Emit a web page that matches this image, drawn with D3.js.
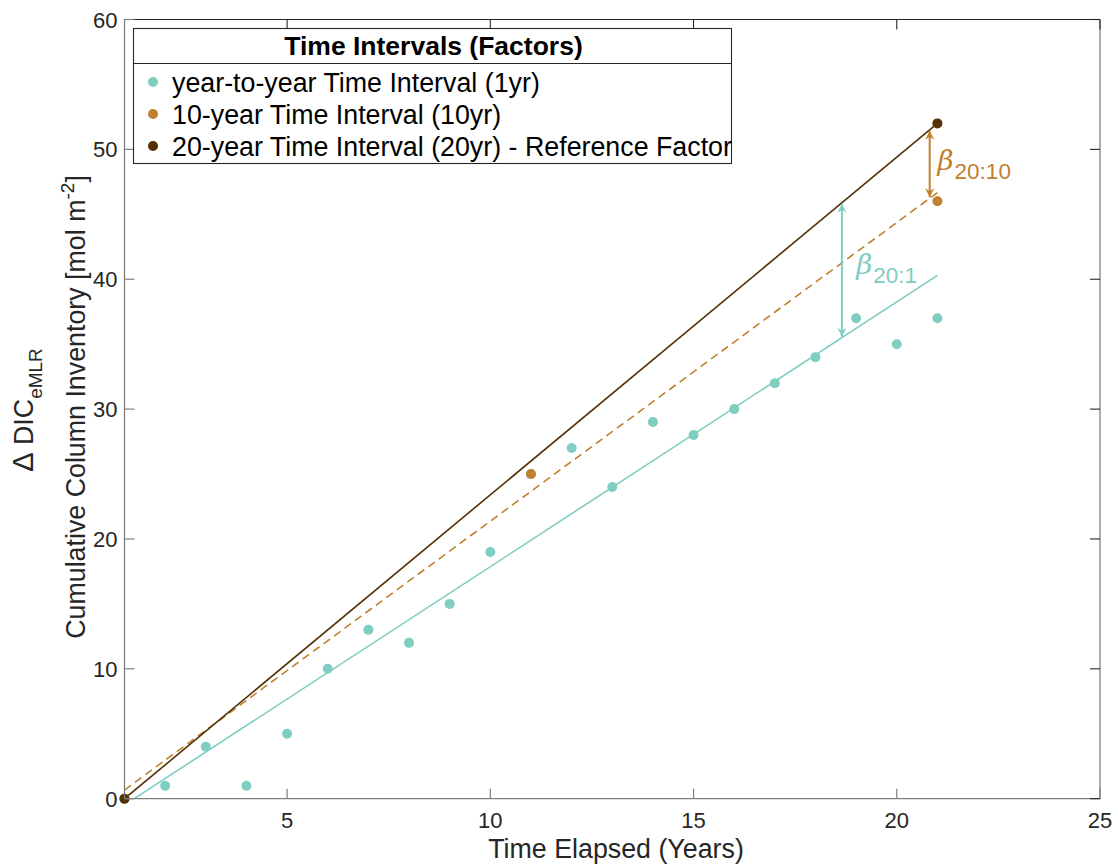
<!DOCTYPE html>
<html>
<head>
<meta charset="utf-8">
<script src="https://cdn.jsdelivr.net/npm/d3@7"></script>
<style>
  body { margin: 0; background: #fff; }
  svg { display: block; font-family: "Liberation Sans", Arial, sans-serif; }
</style>
</head>
<body>
<svg id="chart" width="1118" height="865"></svg>
<script>
// ---- data ----
const yearlyX = [1, 2, 3, 4, 5, 6, 7, 8, 9, 10, 11, 12, 13, 14, 15, 16, 17, 18, 19, 20, 21];
const yearlyY = [0, 1, 4, 1, 5, 10, 13, 12, 15, 19, 25, 27, 24, 29, 28, 30, 32, 34, 37, 35, 37];
const decadeX = [1, 11, 21];
const decadeY = [0, 25, 46];
const refX = [1, 21];
const refY = [0, 52];
const xTicks = [5, 10, 15, 20, 25];
const yTicks = [0, 10, 20, 30, 40, 50, 60];
const legendTitle = "Time Intervals (Factors)";
const legendLabels = [
  "year-to-year Time Interval (1yr)",
  "10-year Time Interval (10yr)",
  "20-year Time Interval (20yr) - Reference Factor"
];
const colors = ["#80cdc1", "#bf812d", "#543005"];
// beta arrows: x position and labels
const betaArrows = [
  { x: 18.65, sub: "20:1", color: "#80cdc1", lx: 19.0, ly: 40.4 },
  { x: 20.81, sub: "20:10", color: "#bf812d", lx: 21.0, ly: 48.4 }
];

// ---- helpers ----
function linfit(xs, ys) {
  const n = xs.length;
  const mx = d3.mean(xs), my = d3.mean(ys);
  let sxy = 0, sxx = 0;
  for (let i = 0; i < n; i++) { sxy += (xs[i] - mx) * (ys[i] - my); sxx += (xs[i] - mx) ** 2; }
  const b = sxy / sxx;
  return x => my + b * (x - mx);
}

const svg = d3.select("#chart");
const L = 124.5, R = 1100, T = 19.5, B = 798.7;
const x = d3.scaleLinear().domain([1, 25]).range([L, R]);
const y = d3.scaleLinear().domain([0, 60]).range([B, T]);

svg.append("defs").append("clipPath").attr("id", "clip")
  .append("rect").attr("x", L).attr("y", T).attr("width", R - L).attr("height", B - T);

const fitYearly = linfit(yearlyX, yearlyY);
const fitDecade = linfit(decadeX, decadeY);
const fitRef = linfit(refX, refY);

const plot = svg.append("g").attr("clip-path", "url(#clip)");
const line = d3.line().x(d => x(d[0])).y(d => y(d[1]));

// fit lines
plot.append("path").datum([[1, fitYearly(1)], [21, fitYearly(21)]])
  .attr("d", line).attr("fill", "none").attr("stroke", colors[0]).attr("stroke-width", 1.6);
plot.append("path").datum([[1, fitDecade(1)], [21, fitDecade(21)]])
  .attr("d", line).attr("fill", "none").attr("stroke", colors[1]).attr("stroke-width", 1.6)
  .attr("stroke-dasharray", "8,5");
plot.append("path").datum([[1, fitRef(1)], [21, fitRef(21)]])
  .attr("d", line).attr("fill", "none").attr("stroke", colors[2]).attr("stroke-width", 1.6);

// points
const pts = svg.append("g");
pts.append("g").selectAll("circle").data(yearlyX.map((d, i) => [d, yearlyY[i]])).join("circle")
  .attr("cx", d => x(d[0])).attr("cy", d => y(d[1])).attr("r", 5).attr("fill", colors[0]);
pts.append("g").selectAll("circle").data(decadeX.map((d, i) => [d, decadeY[i]])).join("circle")
  .attr("cx", d => x(d[0])).attr("cy", d => y(d[1])).attr("r", 5).attr("fill", colors[1]);
pts.append("g").selectAll("circle").data(refX.map((d, i) => [d, refY[i]])).join("circle")
  .attr("cx", d => x(d[0])).attr("cy", d => y(d[1])).attr("r", 5).attr("fill", colors[2]);

// arrows
const defs = svg.select("defs");
betaArrows.forEach((a, i) => {
  ["s", "e"].forEach(k => {
    defs.append("marker").attr("id", `ar${i}${k}`)
      .attr("viewBox", "-10 -6 12 12").attr("refX", 0).attr("refY", 0)
      .attr("markerWidth", 12).attr("markerHeight", 12).attr("markerUnits", "userSpaceOnUse")
      .attr("orient", "auto-start-reverse")
      .append("path").attr("d", "M0,0 L-9,-4.5 L-6,0 L-9,4.5 Z").attr("fill", a.color);
  });
});
const lowerFits = [fitYearly, fitDecade];
betaArrows.forEach((a, i) => {
  svg.append("line")
    .attr("x1", x(a.x)).attr("x2", x(a.x))
    .attr("y1", y(lowerFits[i](a.x)) - 1).attr("y2", y(fitRef(a.x)) + 1)
    .attr("stroke", a.color).attr("stroke-width", 2)
    .attr("marker-start", `url(#ar${i}s)`).attr("marker-end", `url(#ar${i}e)`);
  const t = svg.append("text").attr("x", x(a.lx)).attr("y", y(a.ly)).attr("fill", a.color);
  t.append("tspan").text("β").attr("font-style", "italic").attr("font-size", 28)
    .attr("font-family", "'DejaVu Serif', serif");
  t.append("tspan").text(a.sub).attr("font-size", 22.5).attr("dy", 9).attr("dx", 1);
});

// axes
const axColLB = "#7f7f7f", axColTR = "#262626", txtCol = "#262626";
const ax = svg.append("g");
ax.append("line").attr("x1", L).attr("x2", R).attr("y1", B).attr("y2", B).attr("stroke", axColLB).attr("stroke-width", 1.3);
ax.append("line").attr("x1", L).attr("x2", L).attr("y1", T).attr("y2", B).attr("stroke", axColLB).attr("stroke-width", 1.3);
ax.append("line").attr("x1", L).attr("x2", R).attr("y1", T).attr("y2", T).attr("stroke", axColTR).attr("stroke-width", 1.1);
ax.append("line").attr("x1", R).attr("x2", R).attr("y1", T).attr("y2", B).attr("stroke", axColLB).attr("stroke-width", 1.3);

const tl = 10;
xTicks.forEach(v => {
  ax.append("line").attr("x1", x(v)).attr("x2", x(v)).attr("y1", B).attr("y2", B - tl).attr("stroke", axColLB).attr("stroke-width", 1.2);
  ax.append("line").attr("x1", x(v)).attr("x2", x(v)).attr("y1", T).attr("y2", T + tl).attr("stroke", axColTR).attr("stroke-width", 1.1);
  ax.append("text").attr("x", x(v)).attr("y", B + 29).attr("text-anchor", "middle")
    .attr("font-size", 22).attr("fill", txtCol).text(v);
});
yTicks.forEach(v => {
  ax.append("line").attr("x1", L).attr("x2", L + tl).attr("y1", y(v)).attr("y2", y(v)).attr("stroke", axColLB).attr("stroke-width", 1.2);
  ax.append("line").attr("x1", R).attr("x2", R - tl).attr("y1", y(v)).attr("y2", y(v)).attr("stroke", axColTR).attr("stroke-width", 1.1);
  ax.append("text").attr("x", L - 7).attr("y", y(v) + 8).attr("text-anchor", "end")
    .attr("font-size", 22).attr("fill", txtCol).text(v);
});

// axis labels
svg.append("text").attr("x", 616).attr("y", 858).attr("text-anchor", "middle")
  .attr("font-size", 26.8).attr("fill", txtCol).text("Time Elapsed (Years)");

const yl1 = svg.append("text").attr("transform", `translate(33,410) rotate(-90)`)
  .attr("text-anchor", "middle").attr("font-size", 26.8).attr("fill", txtCol);
yl1.append("tspan").text("Δ").attr("font-size", 29);
yl1.append("tspan").text(" DIC");
yl1.append("tspan").text("eMLR").attr("font-size", 19).attr("dy", 9);

const yl2 = svg.append("text").attr("transform", `translate(85,407) rotate(-90)`)
  .attr("text-anchor", "middle").attr("font-size", 26.8).attr("fill", txtCol);
yl2.append("tspan").text("Cumulative Column Inventory [mol m");
yl2.append("tspan").text("-2").attr("font-size", 19).attr("dy", -11);
yl2.append("tspan").text("]").attr("dy", 11);

// legend
const lg = svg.append("g");
const lgL = 133.5, lgR = 731.5, lgT = 28.5, lgB = 163.5, lgDiv = 63.5;
lg.append("rect").attr("x", lgL).attr("y", lgT).attr("width", lgR - lgL).attr("height", lgB - lgT)
  .attr("fill", "#fff").attr("stroke", "#262626").attr("stroke-width", 1.1);
lg.append("line").attr("x1", lgL).attr("x2", lgR).attr("y1", lgDiv).attr("y2", lgDiv)
  .attr("stroke", "#262626").attr("stroke-width", 1.1);
lg.append("text").attr("x", 433.5).attr("y", 55).attr("text-anchor", "middle")
  .attr("font-size", 26.5).attr("font-weight", "bold").attr("fill", "#000").text(legendTitle);
legendLabels.forEach((lab, i) => {
  const cy = 82 + i * 32;
  lg.append("circle").attr("cx", 153).attr("cy", cy).attr("r", 5).attr("fill", colors[i]);
  lg.append("text").attr("x", 172).attr("y", cy + 9.5).attr("font-size", 26.8).attr("fill", "#000").text(lab);
});
</script>
</body>
</html>
